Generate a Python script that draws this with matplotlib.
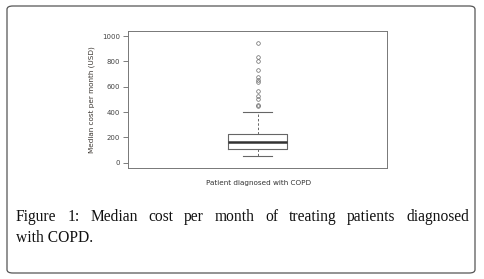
import matplotlib
matplotlib.use("Agg")
import matplotlib.pyplot as plt
from matplotlib.patches import FancyBboxPatch

# Box statistics (USD)
whisker_low = 53
q1 = 108
median = 160
q3 = 226
whisker_high = 400
outliers = [947, 835, 805, 735, 675, 655, 635, 565, 525, 505, 455, 445]
yticks = [0, 200, 400, 600, 800, 1000]
ylabel = "Median cost per month (USD)"
xlabel = "Patient diagnosed with COPD"
caption_line1 = "Figure 1: Median cost per month of treating patients diagnosed"
caption_line2 = "with COPD."

fig = plt.figure(figsize=(4.84, 2.79), dpi=100)

# outer rounded frame
frame = FancyBboxPatch((7/484, 6/279), 468/484, 267/279,
                       boxstyle="round,pad=0,rounding_size=0.012",
                       transform=fig.transFigure, facecolor="none",
                       edgecolor="#555555", linewidth=0.9, zorder=-1)
fig.patches.append(frame)

ax = fig.add_axes([128/484, 1-168/279, 259/484, 137/279])
stats = [dict(med=median, q1=q1, q3=q3, whislo=whisker_low, whishi=whisker_high,
              fliers=outliers)]
ax.bxp(stats, positions=[1], widths=0.23, showfliers=True,
       boxprops=dict(color="#666666", linewidth=0.8),
       medianprops=dict(color="#333333", linewidth=1.8),
       whiskerprops=dict(color="#666666", linewidth=0.7, linestyle=(0, (2.5, 2))),
       capprops=dict(color="#666666", linewidth=0.8),
       flierprops=dict(marker="o", markersize=2.6, markerfacecolor="none",
                       markeredgecolor="#666666", markeredgewidth=0.5))
ax.set_xlim(0.5, 1.5)
ax.set_ylim(-42, 1040)
ax.set_xticks([])
ax.set_yticks(yticks)
ax.set_yticklabels([str(t) for t in yticks], fontsize=5, color="#444444")
ax.tick_params(axis="y", length=3.5, width=0.6, color="#666666", pad=2)
for s in ax.spines.values():
    s.set_color("#777777")
    s.set_linewidth(0.7)
ax.set_ylabel(ylabel, fontsize=5.2, color="#3a3530", labelpad=5)
fig.text(259/484, 1-183/279, xlabel, fontsize=5.2, color="#333333",
         ha="center", va="center")

# justified caption
cap_font = dict(family="Liberation Serif", size=11.2, color="#111111")
fig.canvas.draw()
renderer = fig.canvas.get_renderer()
words = caption_line1.split(" ")
x_left, x_right = 16, 469
y1 = 1-221/279
y2 = 1-242/279
tmp = [fig.text(0, 0, w, **cap_font) for w in words]
widths = [t.get_window_extent(renderer).width for t in tmp]
for t in tmp:
    t.remove()
gap = (x_right - x_left - sum(widths)) / (len(words) - 1)
x = x_left
for w, wd in zip(words, widths):
    fig.text(x/484, y1, w, ha="left", va="baseline", **cap_font)
    x += wd + gap
fig.text(x_left/484, y2, caption_line2, ha="left", va="baseline", **cap_font)

fig.savefig("out.png", dpi=100)
